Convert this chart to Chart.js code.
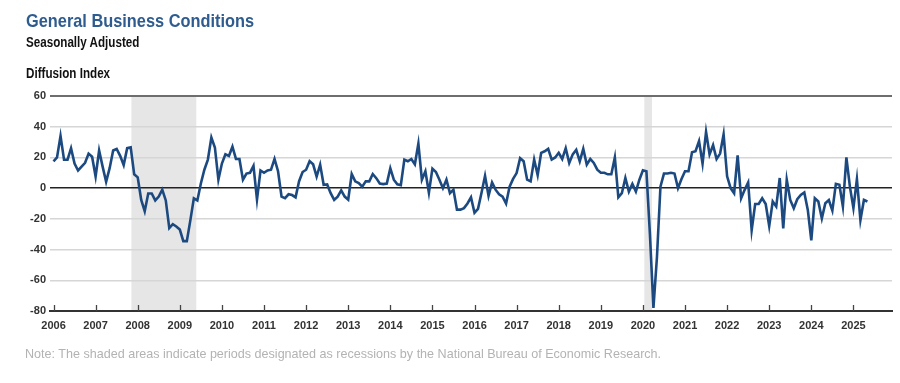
<!DOCTYPE html>
<html>
<head>
<meta charset="utf-8">
<script src="https://cdn.jsdelivr.net/npm/chart.js@4.4.1/dist/chart.umd.min.js"></script>
<style>
  html, body { margin: 0; padding: 0; background: #ffffff; }
  #wrap { position: relative; width: 900px; height: 383px; overflow: hidden;
          font-family: "Liberation Sans", Arial, sans-serif; }
  #c { position: absolute; left: 0; top: 0; }
  .t { position: absolute; white-space: nowrap; line-height: 1; transform-origin: 0 0; }
  #title { left: 26px; top: 11px; font-size: 19px; font-weight: bold; color: #2f5c8f; }
  #sub { left: 26px; top: 35px; font-size: 14px; font-weight: bold; color: #111; }
  #unit { left: 26px; top: 66px; font-size: 14px; font-weight: bold; color: #111; }
  #note { left: 25px; top: 347px; font-size: 13px; color: #b3b3b3; }
</style>
</head>
<body>
<div id="wrap">
  <canvas id="c" width="900" height="383"></canvas>
  <div class="t" id="title" data-w="228">General Business Conditions</div>
  <div class="t" id="sub" data-w="113">Seasonally Adjusted</div>
  <div class="t" id="unit" data-w="84">Diffusion Index</div>
  <div class="t" id="note" data-w="636">Note: The shaded areas indicate periods designated as recessions by the National Bureau of Economic Research.</div>
</div>
<script>
// ---- data (monthly, starting January 2006) ----
const startYear = 2006;
const yearLabels = ["2006","2007","2008","2009","2010","2011","2012","2013","2014","2015",
                    "2016","2017","2018","2019","2020","2021","2022","2023","2024","2025"];
const yTickValues = [-80, -60, -40, -20, 0, 20, 40, 60];
// recession periods, in months since Jan 2006 (as shaded in the source)
const recessionStarts = [22.2, 168.4];
const recessionEnds   = [40.7, 170.6];
const generalBusinessConditions = [
  // 2006
  17.5, 20, 34, 18.5, 18.5, 26, 16, 11.5, 14, 16.5, 22.5, 20.5,
  // 2007
  7.6, 24.5, 14, 4.2, 13, 24.5, 25.5, 21, 15, 26, 26.5, 9,
  // 2008
  7, -7.7, -15, -3.5, -3.5, -8, -5.5, -1, -8, -26, -23.5, -25,
  // 2009
  -27, -34.5, -34.5, -21, -6.6, -8, 3, 12, 18.6, 33, 26.5, 5.5,
  // 2010
  16, 22, 21, 27, 19, 19, 5.5, 9.5, 10, 14.5, -7.5, 11.5,
  // 2011
  10, 11.5, 12, 19, 11, -5.5, -6.5, -4, -4.5, -6, 4.5, 10.5,
  // 2012
  12, 17.5, 15.5, 7.5, 15.3, 2.2, 2.4, -3.3, -7.7, -5.5, -1.5, -5.5,
  // 2013
  -7.5, 9.2, 4.4, 3.3, 1, 4.4, 4.4, 9.2, 6.5, 3, 2.6, 3,
  // 2014
  13, 5.5, 2.5, 2, 18.6, 17.5, 19, 15.5, 29, 5.5, 11, -3,
  // 2015
  12.7, 10.5, 5.5, 0, 5.5, -3.3, -1, -14, -14, -13, -10, -6,
  // 2016
  -16, -13.5, -3, 8, -5, 3.7, -1, -4, -5.5, -10, 1, 6,
  // 2017
  9.8, 19.5, 17.5, 5.5, 4.4, 18.6, 8.5, 23, 24, 25.6, 18.6, 20,
  // 2018
  23, 19, 26, 16.4, 22, 25, 17.5, 25.6, 15.3, 19, 16.4, 12,
  // 2019
  10, 10, 9, 9, 20, -6, -3.3, 6.6, -2.2, 2.8, -2.2, 5.5,
  // 2020
  11.6, 11, -30, -78, -45, 1, 9.5, 9.5, 10, 9.5, 0, 6,
  // 2021
  11, 11, 23.4, 24, 30.6, 16, 36.7, 22, 28, 19, 22.5, 35,
  // 2022
  7.7, 0, -3.3, 21.4, -6.6, -1.1, 3.7, -27.3, -10.3, -10.3, -6.6, -10.3,
  // 2023
  -24.7, -8.7, -12, 6.6, -26.2, 5.5, -7.7, -13.1, -7.2, -4.4, -2.8, -14.2,
  // 2024
  -34, -6.6, -8.7, -19.7, -9.8, -7.7, -14.6, 2.8, 2.2, -12, 20, 1,
  // 2025
  -13, 5.9, -20.8, -7.7, -8.7
];

// condense the HTML text blocks to the source's narrow type widths
document.querySelectorAll('.t').forEach(el => {
  const target = parseFloat(el.dataset.w);
  const w = el.scrollWidth;
  if (w > 0) el.style.transform = 'scaleX(' + (target / w) + ')';
});

const points = generalBusinessConditions.map((v, i) => ({ x: i, y: v }));
const yearTickValues = yearLabels.map((y, i) => i * 12);

const recessionPlugin = {
  id: 'recessions',
  beforeDraw(chart) {
    const { ctx, chartArea, scales } = chart;
    ctx.save();
    ctx.fillStyle = '#e6e6e6';
    for (let i = 0; i < recessionStarts.length; i++) {
      const x0 = scales.x.getPixelForValue(recessionStarts[i]);
      const x1 = scales.x.getPixelForValue(recessionEnds[i]);
      ctx.fillRect(x0, chartArea.top, x1 - x0, chartArea.bottom - chartArea.top);
    }
    ctx.restore();
  }
};

const innerTicksPlugin = {
  id: 'innerTicks',
  afterDatasetsDraw(chart) {
    const { ctx, chartArea, scales } = chart;
    ctx.save();
    ctx.strokeStyle = '#444';
    ctx.lineWidth = 1.3;
    yearTickValues.forEach(v => {
      const x = Math.round(scales.x.getPixelForValue(v)) + 0.5;
      ctx.beginPath();
      ctx.moveTo(x, chartArea.bottom - 6);
      ctx.lineTo(x, chartArea.bottom);
      ctx.stroke();
    });
    ctx.restore();
  }
};

const tickFont = { family: '"Liberation Sans", Arial, sans-serif', size: 11, weight: 'bold' };

new Chart(document.getElementById('c'), {
  type: 'line',
  data: {
    datasets: [{
      data: points,
      borderColor: '#1c4a80',
      borderWidth: 2.6,
      pointRadius: 0,
      fill: false,
      tension: 0
    }]
  },
  options: {
    responsive: false,
    animation: false,
    devicePixelRatio: 1,
    layout: { padding: { top: 96, right: 8, left: 0, bottom: 0 } },
    plugins: { legend: { display: false }, tooltip: { enabled: false }, title: { display: false } },
    scales: {
      x: {
        type: 'linear',
        min: -1,
        max: 239,
        afterFit(s) { s.height = 72; },
        afterBuildTicks(s) { s.ticks = yearTickValues.map(v => ({ value: v })); },
        ticks: {
          autoSkip: false,
          maxRotation: 0,
          padding: 8,
          color: '#333',
          font: tickFont,
          callback: (v) => yearLabels[Math.round(v / 12)]
        },
        grid: { display: false, drawTicks: false },
        border: { display: true, color: '#333', width: 2 }
      },
      y: {
        min: -80,
        max: 60,
        afterFit(s) { s.width = 50; },
        afterBuildTicks(s) { s.ticks = yTickValues.map(v => ({ value: v })); },
        ticks: { padding: 4, color: '#333', font: tickFont },
        grid: {
          drawTicks: false,
          color: (c) => c.tick && c.tick.value === 0 ? '#222' : (c.tick && c.tick.value === 60 ? '#6e6e6e' : (c.tick && c.tick.value === -80 ? '#333' : '#d6d6d6')),
          lineWidth: (c) => c.tick && (c.tick.value === 60 || c.tick.value === -80) ? 2 : (c.tick && c.tick.value === 0 ? 1.6 : 1.5)
        },
        border: { display: false }
      }
    }
  },
  plugins: [recessionPlugin, innerTicksPlugin]
});
</script>
</body>
</html>
